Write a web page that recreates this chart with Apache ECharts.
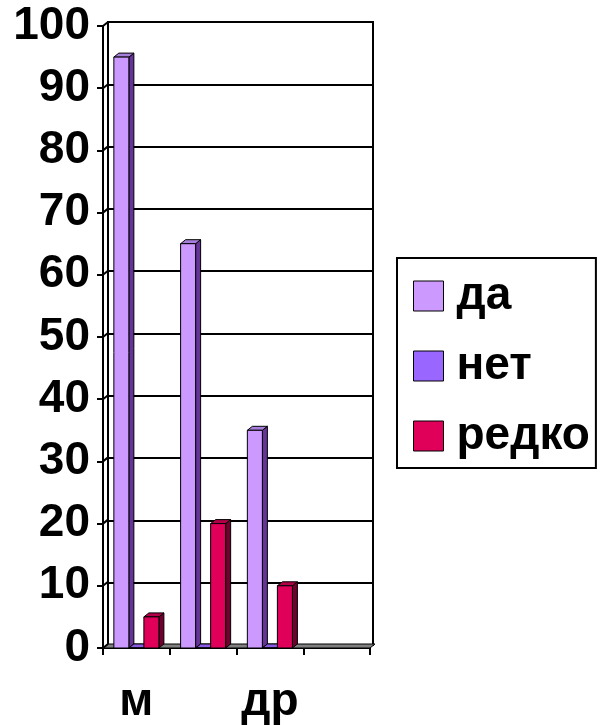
<!DOCTYPE html>
<html lang="ru">
<head>
    <meta charset="UTF-8">
    <title>chart</title>
    <script src="https://cdn.jsdelivr.net/npm/echarts@6/dist/echarts.min.js"></script>
    <style type="text/css">
        body {
            margin: 0;
            padding: 0;
            background: #fff;
        }

        #chart {
            width: 602px;
            height: 725px;
        }
    </style>
</head>
<body>
<div id="chart"></div>
<script>
    // data (last group is empty)
    var categories = ["м", "д", "др", ""];
    var seriesNames = ["да", "нет", "редко"];
    var daValues = [95, 65, 35, null];
    var netValues = [0, 0, 0, null];
    var redkoValues = [5, 20, 10, null];
    var yTicks = [0, 10, 20, 30, 40, 50, 60, 70, 80, 90, 100];

    var DX = 5, DY = -4;
    var FONT = "'Liberation Sans', Arial, sans-serif";

    // 3d-looking bar: front, right side and top
    function bar3d(idx, front, side, top) {
        return function (params, api) {
            var cat = api.value(0), v = api.value(1);
            if (isNaN(v)) return null;
            var w = api.size([1, 0])[0] * 0.225;
            var c = api.coord([cat, v]);
            var b = api.coord([cat, 0]);
            var x0 = c[0] + (idx - 1.5) * w, x1 = x0 + w;
            var yT = c[1], yB = b[1];
            var st = {stroke: "#000", lineWidth: 1};
            return {
                type: "group",
                children: [
                    {type: "polygon", shape: {points: [[x1, yT], [x1 + DX, yT + DY], [x1 + DX, yB + DY], [x1, yB]]},
                        style: Object.assign({fill: side}, st)},
                    {type: "polygon", shape: {points: [[x0, yT], [x0 + DX, yT + DY], [x1 + DX, yT + DY], [x1, yT]]},
                        style: Object.assign({fill: top}, st)},
                    {type: "rect", shape: {x: x0, y: yT, width: w, height: yB - yT},
                        style: Object.assign({fill: front}, st)}
                ]
            };
        };
    }

    function pairs(vals) {
        return vals.map(function (v, i) { return [i, v === null ? "-" : v]; });
    }

    var chart = echarts.init(document.getElementById("chart"));
    chart.setOption({
        animation: false,
        backgroundColor: "#fff",
        grid: [
            // back wall
            {left: 108, right: 229, top: 22, bottom: 80, show: true, borderColor: "#000", borderWidth: 2},
            // front plane
            {left: 103, right: 232, top: 26, bottom: 77}
        ],
        legend: {
            data: seriesNames,
            orient: "vertical",
            left: 397,
            top: 258,
            padding: [15, 6, 9, 16],
            itemGap: 24,
            itemWidth: 30,
            itemHeight: 30,
            icon: "rect",
            borderColor: "#000",
            borderWidth: 2,
            itemStyle: {borderColor: "#000", borderWidth: 1},
            textStyle: {fontSize: 46, fontWeight: "bold", color: "#000", fontFamily: FONT, padding: [0, 0, 0, 8]}
        },
        xAxis: [
            {type: "category", gridIndex: 0, data: categories, show: false},
            {
                type: "category", gridIndex: 1, data: categories,
                axisLine: {lineStyle: {color: "#000", width: 2}},
                axisTick: {show: true, interval: 0, length: 7, lineStyle: {color: "#000", width: 2}},
                axisLabel: {interval: 1, margin: 31, fontSize: 46, fontWeight: "bold", color: "#000", fontFamily: FONT},
                splitLine: {show: false}
            }
        ],
        yAxis: [
            {
                type: "value", gridIndex: 0, min: 0, max: 100, interval: 10,
                axisLine: {show: false}, axisTick: {show: false}, axisLabel: {show: false},
                splitLine: {lineStyle: {color: "#000", width: 2}}
            },
            {
                type: "value", gridIndex: 1, min: 0, max: 100, interval: 10,
                axisLine: {show: true, lineStyle: {color: "#000", width: 2}},
                axisTick: {show: true, length: 6, lineStyle: {color: "#000", width: 2}},
                axisLabel: {margin: 13, fontSize: 46, fontWeight: "bold", color: "#000", fontFamily: FONT},
                splitLine: {show: false}
            }
        ],
        series: [
            {
                // floor
                type: "custom", xAxisIndex: 1, yAxisIndex: 1, silent: true, z: 1,
                data: [[0, 0]],
                renderItem: function (params, api) {
                    var cs = params.coordSys;
                    var y0 = api.coord([0, 0])[1];
                    return {
                        type: "polygon",
                        shape: {points: [[cs.x, y0], [cs.x + DX, y0 + DY], [cs.x + cs.width + DX, y0 + DY], [cs.x + cs.width, y0]]},
                        style: {fill: "#808080", stroke: "#000", lineWidth: 1}
                    };
                }
            },
            {
                // side wall connectors
                type: "custom", xAxisIndex: 1, yAxisIndex: 1, silent: true, z: 1,
                data: yTicks.map(function (t) { return [0, t]; }),
                renderItem: function (params, api) {
                    var cs = params.coordSys;
                    var y = api.coord([0, api.value(1)])[1];
                    return {
                        type: "line",
                        shape: {x1: cs.x, y1: y, x2: cs.x + DX, y2: y + DY},
                        style: {stroke: "#000", lineWidth: 2}
                    };
                }
            },
            {
                name: seriesNames[0], type: "custom", xAxisIndex: 1, yAxisIndex: 1, z: 3,
                itemStyle: {color: "#cc99ff"},
                data: pairs(daValues),
                renderItem: bar3d(0, "#cc99ff", "#663399", "#a57fd9")
            },
            {
                name: seriesNames[1], type: "custom", xAxisIndex: 1, yAxisIndex: 1, z: 3,
                itemStyle: {color: "#9966ff"},
                data: pairs(netValues),
                renderItem: bar3d(1, "#9966ff", "#4d3380", "#8a5ce6")
            },
            {
                name: seriesNames[2], type: "custom", xAxisIndex: 1, yAxisIndex: 1, z: 3,
                itemStyle: {color: "#e0005a"},
                data: pairs(redkoValues),
                renderItem: bar3d(2, "#e0005a", "#70002d", "#b00047")
            }
        ]
    });
</script>
</body>
</html>
